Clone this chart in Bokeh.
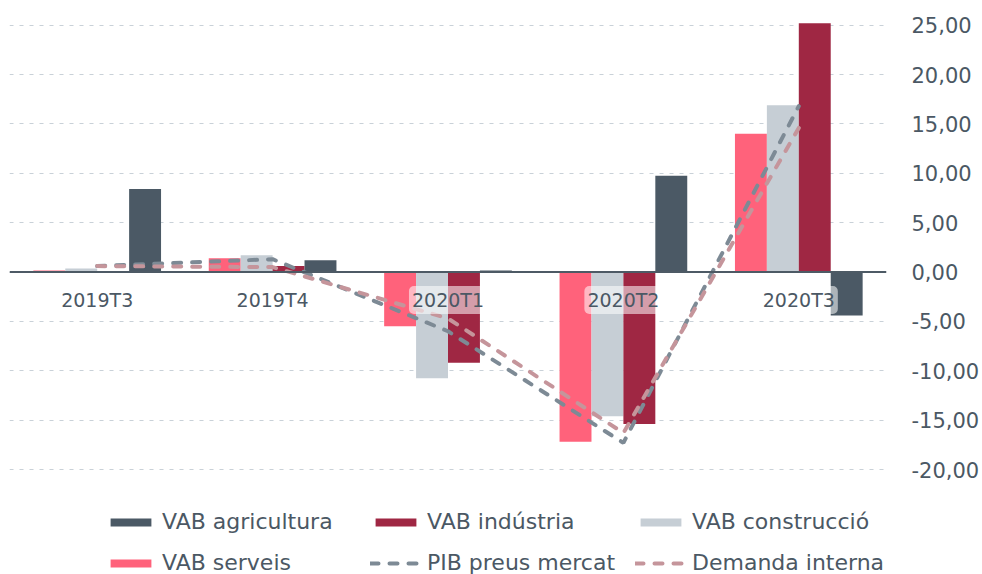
from bokeh.plotting import figure
from bokeh.models import (ColumnDataSource, FactorRange, Range1d, FixedTicker, CustomJSTickFormatter,
                          Span, Legend, LegendItem)
from bokeh.transform import dodge
from bokeh.core.properties import value
from bokeh.embed import file_html
from bokeh.resources import INLINE

categories = ["2019T3", "2019T4", "2020T1", "2020T2", "2020T3"]
vab_serveis = [0.15, 1.4, -5.5, -17.2, 14.0]
vab_construccio = [0.35, 1.7, -10.75, -14.6, 16.9]
vab_industria = [0.1, 0.6, -9.2, -15.4, 25.2]
vab_agricultura = [8.4, 1.2, 0.15, 9.75, -4.4]
pib_preus_mercat = [0.6, 1.3, -6.0, -17.3, 16.8]
demanda_interna = [0.6, 0.5, -4.7, -16.3, 14.6]
y_ticks = [-20, -15, -10, -5, 0, 5, 10, 15, 20, 25]

FONT = "DejaVu Sans"
TXT = "#4b5864"
C_AGR = "#4b5965"
C_IND = "#9f2743"
C_CON = "#c6ced5"
C_SER = "#ff627b"
C_PIB = "#7d8a95"
C_DEM = "#c5959b"

W, H = 982, 574

source = ColumnDataSource(dict(cat=categories, ser=vab_serveis, con=vab_construccio,
                               ind=vab_industria, agr=vab_agricultura,
                               pib=pib_preus_mercat, dem=demanda_interna))

px_per_unit = 444.3 / 45.0
y_end = 25 + 24.7 / px_per_unit
y_start = y_end - H / px_per_unit

p = figure(width=W, height=H, x_range=FactorRange(*categories, range_padding=0),
           y_range=Range1d(y_start, y_end), y_axis_location="right",
           output_backend="svg", toolbar_location=None,
           min_border_left=9, min_border_right=92, min_border_top=0, min_border_bottom=0)
p.outline_line_color = None
p.background_fill_color = "white"
p.border_fill_color = "white"

p.xaxis.visible = False
p.xgrid.grid_line_color = None
p.ygrid.grid_line_color = "#c9d1d8"
p.ygrid.grid_line_dash = "4 6"
p.ygrid.grid_line_width = 1
p.ygrid.ticker = FixedTicker(ticks=y_ticks)

ax = p.yaxis[0]
ax.ticker = FixedTicker(ticks=y_ticks)
ax.formatter = CustomJSTickFormatter(code="return tick.toFixed(2).replace('.', ',');")
ax.axis_line_color = None
ax.major_tick_line_color = None
ax.minor_tick_line_color = None
ax.major_label_standoff = 19
ax.major_label_text_font = FONT
ax.major_label_text_font_size = "21px"
ax.major_label_text_color = TXT

bw = 0.182
r_ser = p.vbar(x=dodge("cat", -1.5 * bw, range=p.x_range), top="ser", width=bw, source=source,
               fill_color=C_SER, line_color=None)
r_con = p.vbar(x=dodge("cat", -0.5 * bw, range=p.x_range), top="con", width=bw, source=source,
               fill_color=C_CON, line_color=None)
r_ind = p.vbar(x=dodge("cat", 0.5 * bw, range=p.x_range), top="ind", width=bw, source=source,
               fill_color=C_IND, line_color=None)
r_agr = p.vbar(x=dodge("cat", 1.5 * bw, range=p.x_range), top="agr", width=bw, source=source,
               fill_color=C_AGR, line_color=None)

p.add_layout(Span(location=0, dimension="width", line_color="#4d5a65", line_width=2, level="glyph"))

r_pib = p.line(x="cat", y="pib", source=source, line_color=C_PIB, line_width=4,
               line_dash="8 11", line_cap="round")
r_dem = p.line(x="cat", y="dem", source=source, line_color=C_DEM, line_width=4,
               line_dash="8 11", line_cap="round")

p.text(x="cat", y=0, text="cat", source=source, y_offset=28, text_align="center",
       text_baseline="middle", text_font=value(FONT), text_font_size="19px", text_color=TXT,
       background_fill_color="white", background_fill_alpha=0.55, padding=3, border_radius=5)

legend = Legend(items=[
    LegendItem(label="VAB agricultura", renderers=[r_agr]),
    LegendItem(label="VAB indústria", renderers=[r_ind]),
    LegendItem(label="VAB construcció", renderers=[r_con]),
    LegendItem(label="VAB serveis", renderers=[r_ser]),
    LegendItem(label="PIB preus mercat", renderers=[r_pib]),
    LegendItem(label="Demanda interna", renderers=[r_dem]),
], location=(96, -1), orientation="horizontal", ncols=3,
    glyph_width=51, glyph_height=10, label_width=192, label_height=20, label_standoff=6,
    spacing=16, padding=0, margin=0, border_line_color=None, background_fill_alpha=0,
    label_text_font=FONT, label_text_font_size="22px", label_text_color=TXT)
p.add_layout(legend)

open("out.html", "w").write(file_html(p, INLINE))
